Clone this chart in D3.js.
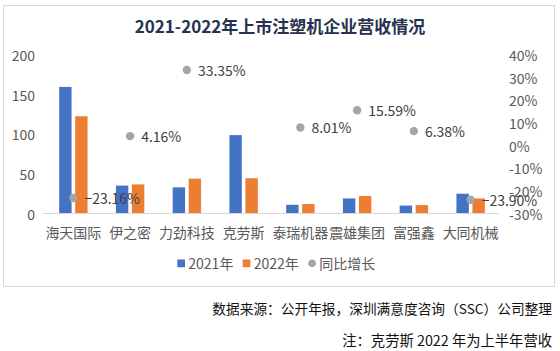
<!DOCTYPE html>
<html>
<head>
<meta charset="utf-8">
<script src="https://cdn.jsdelivr.net/npm/d3@7"></script>
<style>
  body { margin: 0; background: #fff; }
  text { font-family: "Noto Sans CJK SC", "Noto Sans", sans-serif; }
</style>
</head>
<body>
<div id="chart"></div>
<script>
const companies = ["海天国际", "伊之密", "力劲科技", "克劳斯", "泰瑞机器", "震雄集团", "富强鑫", "大同机械"];
const rev2021 = [159.7, 35.2, 33.0, 98.9, 11.0, 19.0, 10.0, 25.0];
const rev2022 = [122.7, 36.7, 44.0, 44.5, 11.9, 22.0, 10.6, 19.0];
const growth = [-23.16, 4.16, 33.35, null, 8.01, 15.59, 6.38, -23.90];
const leftTicks = [0, 50, 100, 150, 200];
const rightTicks = [-30, -20, -10, 0, 10, 20, 30, 40];
const years = ["2021年", "2022年"];
const legendNames = ["2021年", "2022年", "同比增长"];

function drawChart() {
    const width = 560, height = 351;
    const colors = {"2021年": "#4472C4", "2022年": "#ED7D31", dot: "#A5A5A5"};

    const svg = d3.select("#chart").append("svg")
        .attr("width", width)
        .attr("height", height);

    svg.append("rect").attr("width", width).attr("height", height).attr("fill", "#fff");

    // chart frame
    svg.append("rect")
        .attr("x", 3.5).attr("y", 5.5).attr("width", 551).attr("height", 281)
        .attr("fill", "none").attr("stroke", "#D9D9D9");

    svg.append("text")
        .attr("x", 280).attr("y", 25)
        .attr("text-anchor", "middle").attr("dominant-baseline", "central")
        .attr("font-size", "17px").attr("font-weight", "bold").attr("fill", "#26324F")
        .text("2021-2022年上市注塑机企业营收情况");

    const x = d3.scaleBand().domain(companies).range([45, 499]);
    const xSub = d3.scaleBand().domain(years)
        .range([x.bandwidth() / 2 - 14.2, x.bandwidth() / 2 + 14.2])
        .paddingInner(0.225);
    const y = d3.scaleLinear().domain([0, 200]).range([213.5, 55]);
    const y2 = d3.scaleLinear().domain([-30, 40]).range([213.5, 55]);

    const rows = companies.map((c, i) => ({name: c, "2021年": rev2021[i], "2022年": rev2022[i], g: growth[i]}));

    // left axis labels
    svg.append("g").selectAll("text").data(leftTicks).join("text")
        .attr("x", 35).attr("y", d => y(d))
        .attr("text-anchor", "end").attr("dominant-baseline", "central")
        .attr("font-size", "14px").attr("fill", "#595959")
        .text(d => d);

    // right axis labels
    svg.append("g").selectAll("text").data(rightTicks).join("text")
        .attr("x", 509).attr("y", d => y2(d))
        .attr("text-anchor", "start").attr("dominant-baseline", "central")
        .attr("font-size", "14px").attr("fill", "#595959")
        .text(d => d + "%");

    // bars
    const groups = svg.append("g").selectAll("g").data(rows).join("g")
        .attr("transform", d => `translate(${x(d.name)},0)`);
    groups.selectAll("rect").data(d => years.map(k => ({k, v: d[k]}))).join("rect")
        .attr("x", d => xSub(d.k))
        .attr("width", xSub.bandwidth())
        .attr("y", d => y(d.v))
        .attr("height", d => y(0) - y(d.v))
        .attr("fill", d => colors[d.k]);

    // axis line
    svg.append("line")
        .attr("x1", 43).attr("x2", 499).attr("y1", 213.5).attr("y2", 213.5)
        .attr("stroke", "#D9D9D9");

    // category labels
    svg.append("g").selectAll("text").data(companies).join("text")
        .attr("x", d => x(d) + x.bandwidth() / 2).attr("y", 232)
        .attr("text-anchor", "middle").attr("dominant-baseline", "central")
        .attr("font-size", "14px").attr("fill", "#595959")
        .text(d => d);

    // growth points
    const pts = rows.filter(d => d.g !== null);
    svg.append("g").selectAll("circle").data(pts).join("circle")
        .attr("cx", d => x(d.name) + x.bandwidth() / 2)
        .attr("cy", d => y2(d.g))
        .attr("r", 4.2)
        .attr("fill", colors.dot);
    svg.append("g").selectAll("text").data(pts).join("text")
        .attr("x", d => x(d.name) + x.bandwidth() / 2 + 11)
        .attr("y", d => y2(d.g))
        .attr("dominant-baseline", "central")
        .attr("font-size", "14px").attr("fill", "#404040")
        .text(d => d3.format(".2f")(d.g) + "%");

    // legend
    const legend = svg.append("g");
    const lx = [177.3, 242.7, 308.3];
    legendNames.forEach((name, i) => {
        if (i < 2) {
            legend.append("rect").attr("x", lx[i]).attr("y", 259.5).attr("width", 7.7).attr("height", 7.7)
                .attr("fill", colors[name]);
        } else {
            legend.append("circle").attr("cx", lx[i] + 3.8).attr("cy", 263.3).attr("r", 3.8)
                .attr("fill", colors.dot);
        }
        legend.append("text").attr("x", lx[i] + 11).attr("y", 263.3)
            .attr("dominant-baseline", "central")
            .attr("font-size", "14px").attr("fill", "#595959")
            .text(name);
    });

    // footnotes
    svg.append("text").attr("x", 552).attr("y", 308)
        .attr("text-anchor", "end").attr("dominant-baseline", "central")
        .attr("font-size", "13.7px").attr("fill", "#111")
        .text("数据来源：公开年报，深圳满意度咨询（SSC）公司整理");
    svg.append("text").attr("x", 552).attr("y", 339)
        .attr("text-anchor", "end").attr("dominant-baseline", "central")
        .attr("font-size", "14.3px").attr("fill", "#111")
        .text("注：克劳斯 2022 年为上半年营收");
}

drawChart();
</script>
</body>
</html>
